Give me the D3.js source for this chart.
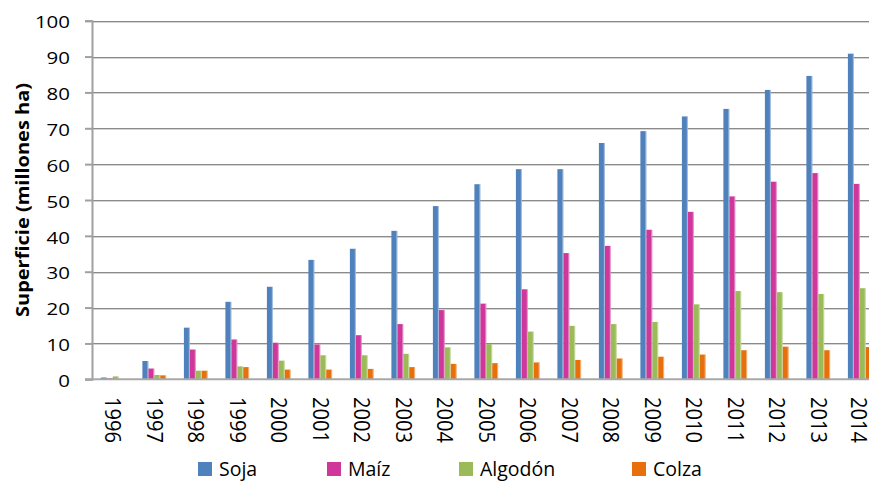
<!DOCTYPE html>
<html>
<head>
<meta charset="utf-8">
<script src="https://cdn.jsdelivr.net/npm/d3@7"></script>
<style>
  html, body { margin: 0; padding: 0; background: #fff; }
  svg { display: block; }
  text { font-family: "Open Sans", "Noto Sans", sans-serif; fill: #000; }
</style>
</head>
<body>
<svg id="chart" width="869" height="482"></svg>
<script>
// Superficie cultivada con variedades transgénicas (millones ha)
const years = ["1996","1997","1998","1999","2000","2001","2002","2003","2004","2005",
               "2006","2007","2008","2009","2010","2011","2012","2013","2014"];
const soja    = [0.5, 5.1, 14.4, 21.6, 25.8, 33.3, 36.4, 41.4, 48.3, 54.4, 58.6, 58.6, 65.9, 69.2, 73.3, 75.4, 80.7, 84.6, 90.8];
const maiz    = [0.3, 3.0, 8.3, 11.1, 10.2, 9.7, 12.3, 15.4, 19.3, 21.1, 25.1, 35.2, 37.2, 41.7, 46.7, 51.0, 55.1, 57.5, 54.5];
const algodon = [0.8, 1.2, 2.4, 3.6, 5.2, 6.7, 6.7, 7.1, 8.9, 9.8, 13.3, 14.9, 15.4, 16.0, 20.9, 24.6, 24.3, 23.8, 25.4];
const colza   = [0.0, 1.1, 2.4, 3.4, 2.7, 2.7, 2.9, 3.4, 4.3, 4.5, 4.7, 5.4, 5.8, 6.3, 6.9, 8.1, 9.1, 8.1, 9.0];
const seriesNames = ["Soja", "Maíz", "Algodón", "Colza"];
const yTicks = [0, 10, 20, 30, 40, 50, 60, 70, 80, 90, 100];
const yTitle = "Superficie (millones ha)";

const seriesValues = [soja, maiz, algodon, colza];
const colors = ["#4F81BD", "#CF379A", "#9BBB59", "#E8700C"];

const svg = d3.select("#chart");
const plotLeft = 92, plotTop = 20.7, plotBottom = 379.3, catW = 41.5;

const x0 = d3.scaleBand().domain(years).range([plotLeft, plotLeft + years.length * catW]).padding(0);
const groupW = x0.bandwidth() * 4 / 7;
const x1 = d3.scaleBand().domain(seriesNames)
  .range([(x0.bandwidth() - groupW) / 2, (x0.bandwidth() + groupW) / 2]).padding(0);
const y = d3.scaleLinear().domain([0, 100]).range([plotBottom, plotTop]);

// horizontal gridlines (dark line with a soft shadow underneath)
const grid = svg.append("g");
yTicks.filter(t => t > 0).forEach(t => {
  const gy = Math.round(y(t)) + 0.5;
  grid.append("line").attr("x1", plotLeft).attr("x2", 869).attr("y1", gy).attr("y2", gy)
    .attr("stroke", "#8a8a8a").attr("stroke-width", 1);
  grid.append("line").attr("x1", plotLeft).attr("x2", 869).attr("y1", gy + 1).attr("y2", gy + 1)
    .attr("stroke", "#d4d4d4").attr("stroke-width", 1);
});

// bars
const rows = years.map((yr, i) => ({ year: yr, vals: seriesNames.map((s, k) => ({ s, k, v: seriesValues[k][i] })) }));
const groups = svg.append("g").selectAll("g").data(rows).join("g")
  .attr("transform", d => `translate(${x0(d.year)},0)`);
groups.selectAll("rect").data(d => d.vals.filter(e => e.v > 0)).join("rect")
  .attr("x", d => x1(d.s))
  .attr("y", d => y(d.v))
  .attr("width", x1.bandwidth())
  .attr("height", d => y(0) - y(d.v))
  .attr("fill", d => colors[d.k]);
// faint highlight on the right edge of each bar
groups.selectAll("line.hl").data(d => d.vals.filter(e => e.v > 0)).join("line")
  .attr("class", "hl")
  .attr("x1", d => x1(d.s) + x1.bandwidth() - 0.5)
  .attr("x2", d => x1(d.s) + x1.bandwidth() - 0.5)
  .attr("y1", d => y(d.v))
  .attr("y2", y(0))
  .attr("stroke", "#ffffff").attr("stroke-opacity", 0.45).attr("stroke-width", 1);

// y axis
const yAxis = d3.axisLeft(y).tickValues(yTicks).tickSize(7).tickPadding(15).tickFormat(d3.format("d"));
const yg = svg.append("g").attr("transform", `translate(${plotLeft},0)`).call(yAxis);
yg.select(".domain").attr("stroke", "#a0a0a0").attr("stroke-width", 2);
yg.selectAll(".tick line").attr("stroke", "#a0a0a0").attr("stroke-width", 2);
yg.selectAll(".tick text")
  .attr("font-family", "Open Sans")
  .attr("font-size", 17)
  .attr("dy", "0.42em")
  .attr("fill", "#000")
  .attr("textLength", d => String(d).length * 11.7)
  .attr("lengthAdjust", "spacingAndGlyphs");

// x axis baseline
svg.append("line").attr("x1", plotLeft - 7).attr("x2", 869).attr("y1", plotBottom).attr("y2", plotBottom)
  .attr("stroke", "#a8a8a8").attr("stroke-width", 2);

// x axis labels, rotated
const xg = svg.append("g");
xg.selectAll("text").data(years).join("text")
  .attr("transform", d => `translate(${Math.min(x0(d) + x0.bandwidth() / 2, 858.5)},397) rotate(90)`)
  .attr("font-size", 21.5)
  .attr("dy", "0.36em")
  .attr("text-anchor", "start")
  .attr("textLength", 46)
  .attr("lengthAdjust", "spacingAndGlyphs")
  .text(d => d);

// y axis title
svg.append("text")
  .attr("transform", "translate(29,200) rotate(-90)")
  .attr("text-anchor", "middle")
  .attr("font-size", 17)
  .attr("font-weight", "bold")
  .attr("textLength", 234)
  .attr("lengthAdjust", "spacingAndGlyphs")
  .text(yTitle);

// legend
const legendX = [198, 327, 459, 632];
const lg = svg.append("g").selectAll("g").data(seriesNames).join("g")
  .attr("transform", (d, i) => `translate(${legendX[i]},462)`);
lg.append("rect").attr("width", 14).attr("height", 14).attr("fill", (d, i) => colors[i]);
lg.append("text").attr("x", 21).attr("y", 14).attr("font-size", 19.5).text(d => d);
</script>
</body>
</html>
